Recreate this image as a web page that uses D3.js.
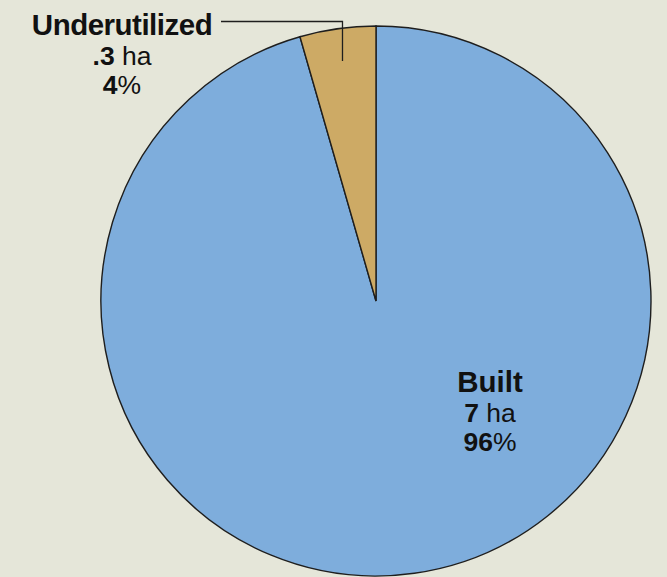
<!DOCTYPE html>
<html>
<head>
<meta charset="utf-8">
<script src="https://cdn.jsdelivr.net/npm/d3@7"></script>
<style>
  html, body { margin: 0; padding: 0; background: #e5e6d9; }
  svg { display: block; }
  text { font-family: "Liberation Sans", Arial, sans-serif; fill: #111; }
</style>
</head>
<body>
<script>
// Data
const categories = ['Built', 'Underutilized']
const areas = [6.43, 0.3]          // hectares (slice sizes)
const areaLabels = ['7', '.3']
const shareLabels = ['96', '4']

const width = 667
const height = 577
const cx = 376
const cy = 301
const radius = 275

const colors = d3.scaleOrdinal()
    .domain(categories)
    .range(['#7eaddc', '#cdaa65'])

const svg = d3.select('body')
    .append('svg')
    .attr('width', width)
    .attr('height', height)

const g = svg.append('g')
    .attr('transform', `translate(${cx}, ${cy})`)

const pie = d3.pie().sort(null).value(d => d.value)
const arc = d3.arc().innerRadius(0).outerRadius(radius)

const data = categories.map((c, i) => ({name: c, value: areas[i], ha: areaLabels[i], pct: shareLabels[i]}))
const arcs = pie(data)

g.selectAll('path.slice')
    .data(arcs)
    .enter()
    .append('path')
        .attr('class', 'slice')
        .attr('d', arc)
        .style('fill', d => colors(d.data.name))
        .style('stroke', '#1e1e1e')
        .style('stroke-width', 1.4)

// Labels (anchor point relative to pie centre)
const labelPos = {
    'Built': [114, 91],
    'Underutilized': [-254, -266]
}

const labels = g.selectAll('g.label')
    .data(arcs)
    .enter()
    .append('g')
        .attr('class', 'label')
        .attr('transform', d => `translate(${labelPos[d.data.name][0]}, ${labelPos[d.data.name][1]})`)

labels.append('text')
    .attr('text-anchor', 'middle')
    .style('font-weight', 'bold')
    .style('font-size', '29.5px')
    .style('letter-spacing', d => d.data.name === 'Underutilized' ? '-0.5px' : '0px')
    .text(d => d.data.name)

const l2 = labels.append('text')
    .attr('text-anchor', 'middle')
    .attr('y', 30)
    .style('font-size', '26.5px')
l2.append('tspan').style('font-weight', 'bold').text(d => d.data.ha)
l2.append('tspan').text(' ha')

const l3 = labels.append('text')
    .attr('text-anchor', 'middle')
    .attr('y', 59)
    .style('font-size', '26.5px')
l3.append('tspan').style('font-weight', 'bold').text(d => d.data.pct)
l3.append('tspan').text('%')

// Leader line for the small slice
const small = arcs[1]
const inner = d3.arc().innerRadius(radius * 0.873).outerRadius(radius * 0.873).centroid(small)
svg.append('path')
    .attr('d', `M${cx - 155},${cy - 279.5} H${cx + inner[0]} V${cy - 240}`)
    .style('fill', 'none')
    .style('stroke', '#1e1e1e')
    .style('stroke-width', 1.3)
</script>
</body>
</html>
